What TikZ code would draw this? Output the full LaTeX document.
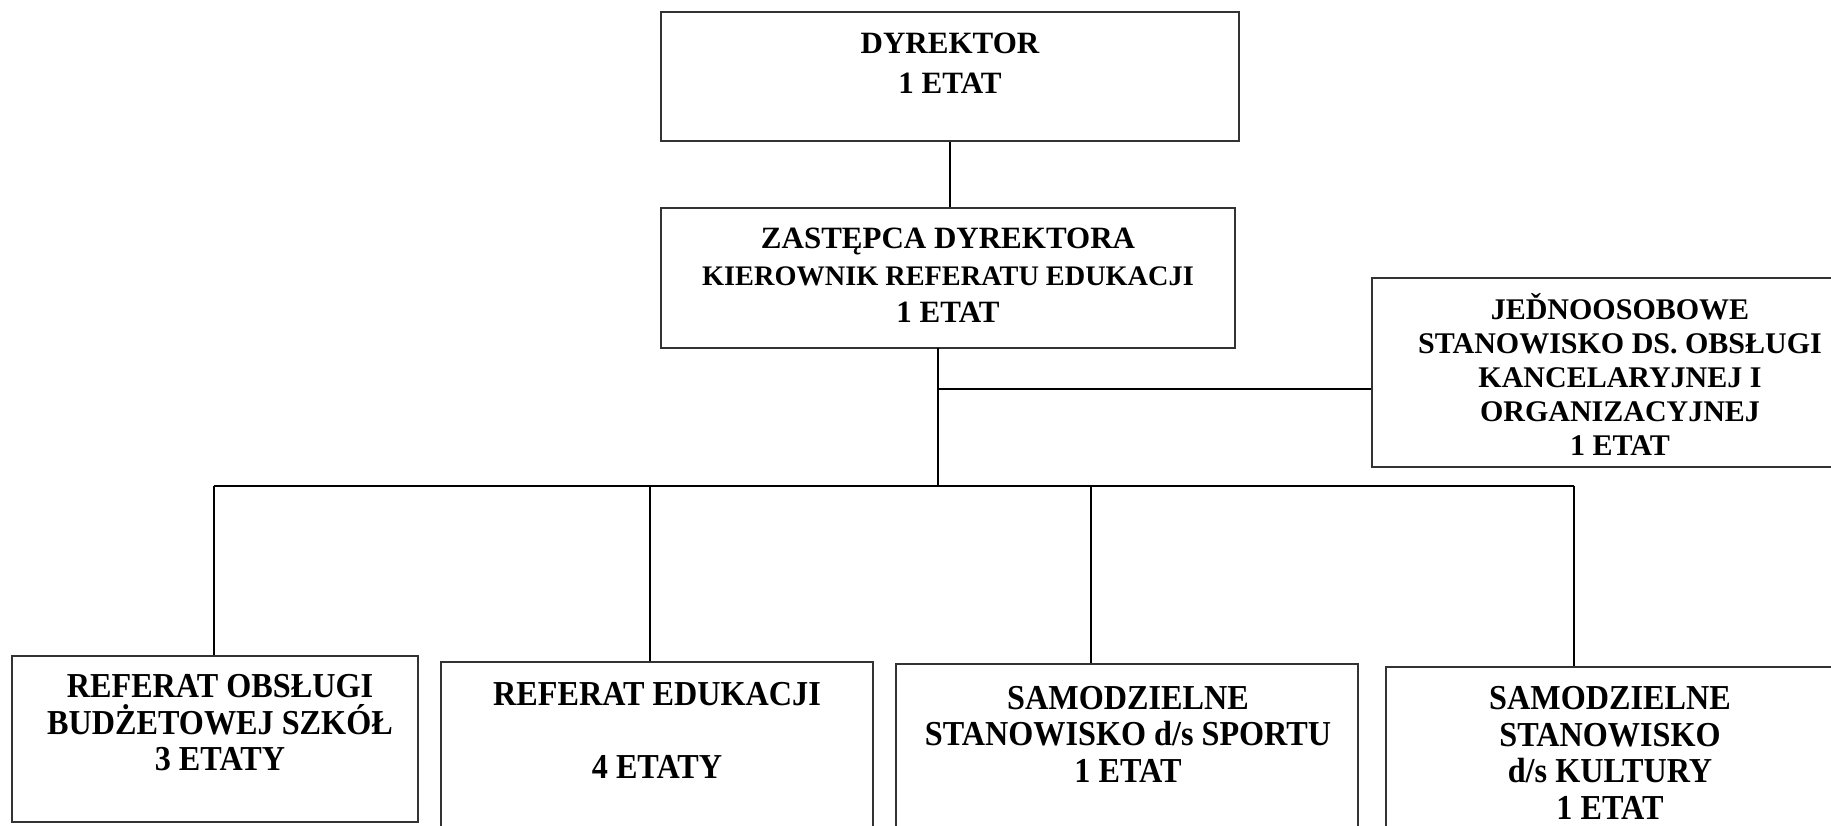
\documentclass[tikz,border=0pt]{standalone}
\usepackage{fontspec}
\setmainfont{Liberation Serif}
\newfontfamily\narrowfont[FakeStretch=0.92]{Liberation Serif}
\usetikzlibrary{positioning}

\begin{document}
\begin{tikzpicture}[x=1pt,y=-1pt,-,line width=2pt]
	\tikzstyle{unit}=[draw=black!80, rectangle, inner sep=0pt]
	\tikzstyle{txt}=[align=center, inner sep=0pt, font=\bfseries\fontsize{31}{37}\selectfont]
	\tikzstyle{txtlow}=[align=center, inner sep=0pt, font=\narrowfont\bfseries\fontsize{35}{36.5}\selectfont]
	\useasboundingbox (0,0) rectangle (1831,826);
	% boxes
	\node[unit, minimum width=578, minimum height=129] (dyr)   at (950,76.5)  {};
	\node[unit, minimum width=574, minimum height=140] (zast)  at (948,278)   {};
	\node[unit, minimum width=496, minimum height=189] (jedno) at (1620,372.5) {};
	\node[unit, minimum width=406, minimum height=166] (ob)    at (215,739)   {};
	\node[unit, minimum width=432, minimum height=188] (edu)   at (657,756)   {};
	\node[unit, minimum width=462, minimum height=186] (sport) at (1127,757)  {};
	\node[unit, minimum width=464, minimum height=183] (kult)  at (1618,758.5) {};
	% texts
	\node[txt, font=\bfseries\fontsize{31}{39.5}\selectfont] (dyrT) at (950,63) {DYREKTOR\\1 ETAT};
	\node[txt] (zastT) at (948,275) {ZASTĘPCA DYREKTORA\\{\fontsize{28.3}{37}\selectfont KIEROWNIK REFERATU EDUKACJI}\\1 ETAT};
	\node[txt, font=\bfseries\fontsize{30}{34}\selectfont] (jednoT) at (1620,374)
		{JEĎNOOSOBOWE\\STANOWISKO DS. OBSŁUGI\\KANCELARYJNEJ I\\ORGANIZACYJNEJ\\1 ETAT};
	\node[txtlow] (obT)    at (220,723)  {REFERAT OBSŁUGI\\BUDŻETOWEJ SZKÓŁ\\3 ETATY};
	\node[txtlow] (eduT)   at (657,730)  {REFERAT EDUKACJI\\[36.5pt]4 ETATY};
	\node[txtlow] (sportT) at (1128,734) {SAMODZIELNE\\STANOWISKO d/s SPORTU\\1 ETAT};
	\node[txtlow] (kultT)  at (1610,753) {SAMODZIELNE\\STANOWISKO\\d/s KULTURY\\1 ETAT};
	% lines
	\coordinate (zs) at (938,348);
	\coordinate (br) at (938,389);
	\coordinate (jn) at (938,486);
	\coordinate (b1) at (214,486);
	\coordinate (b2) at (650,486);
	\coordinate (b3) at (1091,486);
	\coordinate (b4) at (1574,486);
	\path
		(dyr.south) edge (dyr.south |- zast.north)
		(zs) edge (jn)
		(br) edge (br -| jedno.west)
		(b1) edge (b4)
		(b1) edge (b1 |- ob.north)
		(b2) edge (b2 |- edu.north)
		(b3) edge (b3 |- sport.north)
		(b4) edge (b4 |- kult.north);
\end{tikzpicture}
\end{document}
